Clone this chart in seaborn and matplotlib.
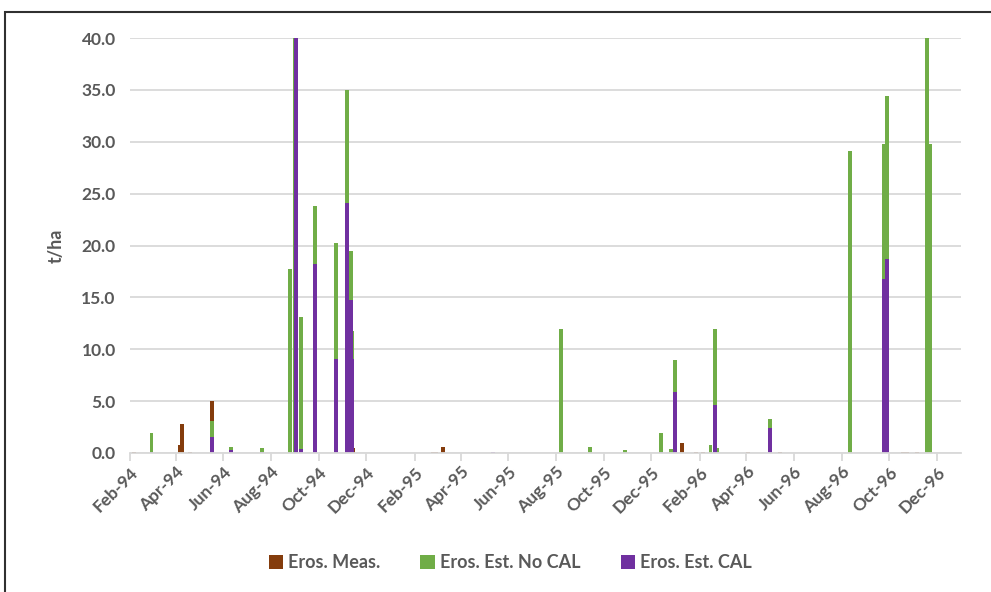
import pandas as pd
import numpy as np
import seaborn as sns
import matplotlib.pyplot as plt
import matplotlib.dates as mdates
from matplotlib.patches import Rectangle

# Eros. Meas.
meas_dates = ['1994-02-07', '1994-04-06', '1994-04-09', '1994-04-19', '1994-05-18',
              '1994-11-14', '1995-02-24', '1995-02-28', '1995-03-09', '1996-01-09',
              '1996-01-28', '1996-02-05', '1996-02-23', '1996-04-03', '1996-05-14',
              '1996-10-19', '1996-10-24', '1996-11-06']
meas_vals = [0.1, 0.8, 2.8, 0.1, 5.0,
             0.5, 0.1, 0.1, 0.6, 1.0,
             0.1, 0.1, 0.1, 0.1, 0.1,
             0.1, 0.1, 0.1]

# Eros. Est. No CAL
nocal_dates = ['1994-03-01', '1994-05-18', '1994-06-11', '1994-07-20', '1994-08-26',
               '1994-09-01', '1994-09-09', '1994-09-26', '1994-10-23', '1994-11-06',
               '1994-11-11', '1994-11-13', '1995-08-07', '1995-09-14', '1995-10-28',
               '1995-12-14', '1995-12-27', '1996-01-01', '1996-02-15', '1996-02-21',
               '1996-02-23', '1996-05-01', '1996-08-12', '1996-09-24', '1996-09-28',
               '1996-11-18', '1996-11-22']
nocal_vals = [1.9, 3.1, 0.6, 0.5, 17.7,
              40.0, 13.1, 23.8, 20.2, 35.0,
              19.5, 11.8, 12.0, 0.6, 0.3,
              1.9, 0.4, 9.0, 0.8, 12.0,
              0.5, 3.3, 29.1, 29.8, 34.4,
              40.0, 29.8]

# Eros. Est. CAL
cal_dates = ['1994-03-01', '1994-05-18', '1994-06-11', '1994-07-20', '1994-09-02',
             '1994-09-09', '1994-09-26', '1994-10-23', '1994-11-06', '1994-11-11',
             '1994-11-13', '1995-05-12', '1995-12-14', '1996-01-01', '1996-02-21',
             '1996-05-01', '1996-09-24', '1996-09-28']
cal_vals = [0.1, 1.5, 0.25, 0.1, 40.0,
            0.4, 18.2, 9.1, 24.1, 14.7,
            9.1, 0.1, 0.1, 5.9, 4.6,
            2.4, 16.8, 18.7]

series = [('Eros. Meas.', meas_dates, meas_vals, '#843C0C'),
          ('Eros. Est. No CAL', nocal_dates, nocal_vals, '#70AD47'),
          ('Eros. Est. CAL', cal_dates, cal_vals, '#7030A0')]

sns.set_style('white')
plt.rcParams['font.family'] = ['Lato', 'DejaVu Sans']
grey = '#595959'

fig = plt.figure(figsize=(9.91, 5.92), dpi=100)
ax = fig.add_axes([0.1308, 0.2348, 0.839, 0.701])

for name, d, v, c in series:
    x = mdates.date2num(pd.to_datetime(d))
    ax.bar(x, v, width=5, color=c, label=name, zorder=3, linewidth=0)

ax.set_xlim(mdates.date2num(pd.Timestamp('1994-02-01')),
            mdates.date2num(pd.Timestamp('1997-01-01')))
ax.set_ylim(0, 40)
ax.set_yticks(np.arange(0, 40.1, 5))
ax.yaxis.set_major_formatter(plt.FormatStrFormatter('%.1f'))
ax.xaxis.set_major_locator(mdates.MonthLocator(bymonth=[2, 4, 6, 8, 10, 12]))
ax.xaxis.set_major_formatter(mdates.DateFormatter('%b-%y'))

ax.grid(axis='y', color='#D9D9D9', linewidth=1.3, zorder=0)
for s in ['top', 'right', 'left']:
    ax.spines[s].set_visible(False)
ax.spines['bottom'].set_color('#D9D9D9')
ax.spines['bottom'].set_linewidth(1.3)
ax.spines['bottom'].set_zorder(4)

ax.tick_params(axis='x', length=6, width=1.3, color='#D9D9D9', bottom=True,
               labelsize=12.5, labelcolor=grey, pad=2)
ax.tick_params(axis='y', length=0, labelsize=12.5, labelcolor=grey, pad=10)
for lab in ax.get_xticklabels():
    lab.set_rotation(45)
    lab.set_ha('right')
    lab.set_rotation_mode('anchor')
    lab.set_fontweight('bold')
for lab in ax.get_yticklabels():
    lab.set_fontweight('bold')

ax.set_ylabel('t/ha', fontsize=13, fontweight='bold', color=grey, labelpad=12)

fig.legend(loc='center', bbox_to_anchor=(0.515, 0.05), ncol=3, frameon=False,
           handlelength=0.8, handleheight=0.8, handletextpad=0.3,
           columnspacing=2.2, prop={'weight': 'bold', 'size': 13})
for t in fig.legends[0].get_texts():
    t.set_color(grey)

fig.patches.append(Rectangle((5 / 991, -0.1), 1.2, 0.1 + 1 - 12 / 592,
                             transform=fig.transFigure, fill=False,
                             edgecolor='#303030', linewidth=1.5))

fig.savefig('out.png', dpi=100)
